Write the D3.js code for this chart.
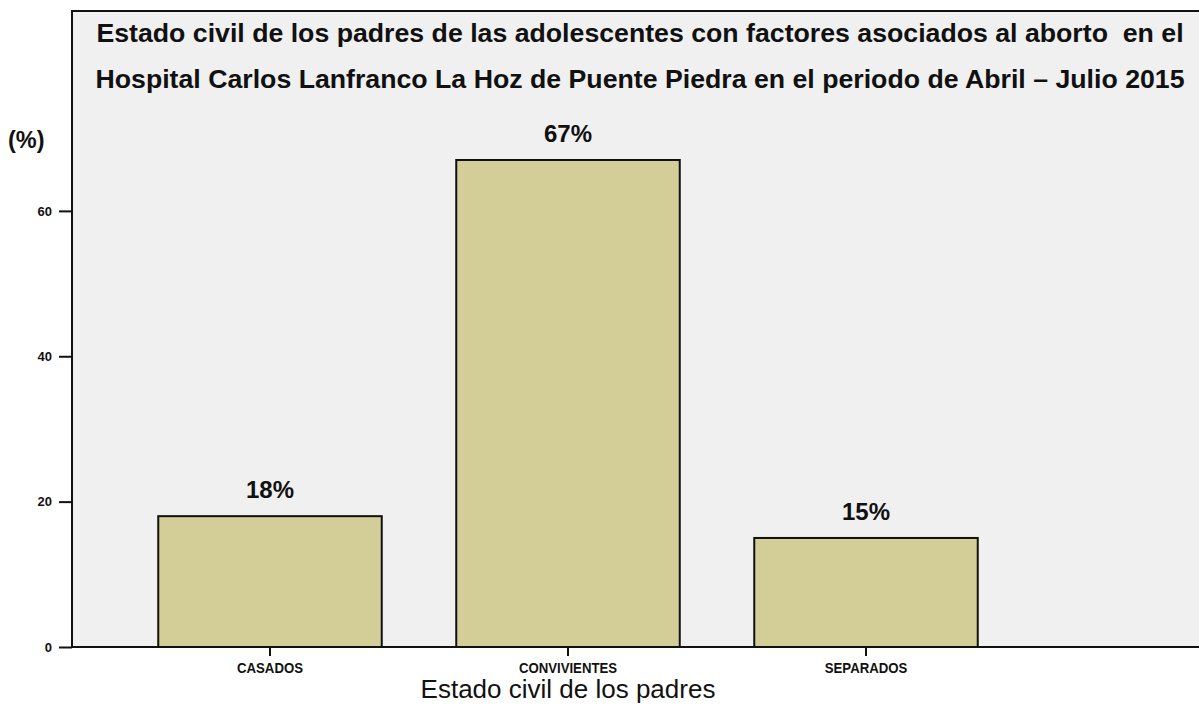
<!DOCTYPE html>
<html>
<head>
<meta charset="utf-8">
<script src="https://cdn.jsdelivr.net/npm/d3@7"></script>
<style>
  html, body { margin: 0; padding: 0; background: #ffffff; }
  svg { display: block; font-family: "Liberation Sans", Arial, sans-serif; }
  .pre { white-space: pre; }
</style>
</head>
<body>
<svg id="chart" width="1199" height="711"></svg>
<script>
// Estado civil de los padres: porcentaje por categoría
const categories = ["CASADOS", "CONVIVIENTES", "SEPARADOS"];
const percentages = [18, 67, 15];
const valueLabels = ["18%", "67%", "15%"];
const yTicks = [0, 20, 40, 60];
const titleLines = [
  "Estado civil de los padres de las adolescentes con factores asociados al aborto  en el",
  "Hospital Carlos Lanfranco La Hoz de Puente Piedra en el periodo de Abril \u2013 Julio 2015"
];
const xTitle = "Estado civil de los padres";
const yTitle = "(%)";

const svg = d3.select("#chart");
const W = 1199, H = 711;
const plot = { left: 72, top: 11, right: W, bottom: 647 };

const y = d3.scaleLinear().domain([0, 87.5]).range([plot.bottom, plot.top]);
const x = d3.scaleBand()
  .domain(categories)
  .range([121, 1015])
  .paddingInner(0.25)
  .paddingOuter(0.125);

// plot background
svg.append("rect")
  .attr("x", plot.left).attr("y", plot.top)
  .attr("width", plot.right - plot.left).attr("height", plot.bottom - plot.top)
  .attr("fill", "#f0f0f0");

// top frame line
svg.append("line")
  .attr("x1", plot.left).attr("x2", plot.right)
  .attr("y1", plot.top).attr("y2", plot.top)
  .attr("stroke", "#111").attr("stroke-width", 2);

// bars
svg.append("g").selectAll("rect")
  .data(categories)
  .join("rect")
  .attr("x", d => x(d))
  .attr("y", (d, i) => y(percentages[i]))
  .attr("width", x.bandwidth())
  .attr("height", (d, i) => y(0) - y(percentages[i]))
  .attr("fill", "#d3cd98")
  .attr("stroke", "#111")
  .attr("stroke-width", 2);

// value labels
svg.append("g").selectAll("text")
  .data(categories)
  .join("text")
  .attr("x", d => x(d) + x.bandwidth() / 2)
  .attr("y", (d, i) => y(percentages[i]) - 18)
  .attr("text-anchor", "middle")
  .attr("font-size", 24)
  .attr("font-weight", "bold")
  .attr("fill", "#111")
  .text((d, i) => valueLabels[i]);

// y axis
const yAxis = svg.append("g")
  .attr("transform", `translate(${plot.left},0)`)
  .call(d3.axisLeft(y).tickValues(yTicks).tickSize(13).tickPadding(7).tickFormat(d3.format("d")));
yAxis.select(".domain").remove();
yAxis.selectAll(".tick line").attr("stroke", "#111").attr("stroke-width", 2);
yAxis.selectAll(".tick text")
  .attr("font-size", 13).attr("font-weight", "bold").attr("fill", "#111")
  .attr("font-family", "Liberation Sans, Arial, sans-serif");

svg.append("line")
  .attr("x1", plot.left).attr("x2", plot.left)
  .attr("y1", plot.top - 1).attr("y2", plot.bottom + 1)
  .attr("stroke", "#111").attr("stroke-width", 2);

// x axis (category labels in a condensed bold face)
const xAxis = svg.append("g")
  .attr("transform", `translate(0,${plot.bottom})`)
  .call(d3.axisBottom(x).tickSize(9).tickPadding(6));
xAxis.select(".domain").remove();
xAxis.selectAll(".tick line").attr("stroke", "#111").attr("stroke-width", 2);
xAxis.selectAll(".tick text")
  .attr("font-size", 15).attr("font-weight", "bold").attr("fill", "#111")
  .attr("font-family", "Liberation Sans, Arial, sans-serif")
  .attr("transform", "scale(0.88,1)");

svg.append("line")
  .attr("x1", plot.left).attr("x2", plot.right)
  .attr("y1", plot.bottom).attr("y2", plot.bottom)
  .attr("stroke", "#111").attr("stroke-width", 2);

// title
svg.append("g").selectAll("text")
  .data(titleLines)
  .join("text")
  .attr("class", "pre")
  .attr("x", 640)
  .attr("y", (d, i) => 42 + i * 46)
  .attr("text-anchor", "middle")
  .attr("font-size", 26.7)
  .attr("font-weight", "bold")
  .attr("fill", "#111")
  .text(d => d);

// axis titles
svg.append("text")
  .attr("x", 8).attr("y", 148)
  .attr("font-size", 23.5).attr("font-weight", "bold").attr("fill", "#111")
  .text(yTitle);

svg.append("text")
  .attr("x", x("CONVIVIENTES") + x.bandwidth() / 2)
  .attr("y", 698)
  .attr("text-anchor", "middle")
  .attr("font-size", 26).attr("fill", "#111")
  .text(xTitle);
</script>
</body>
</html>
